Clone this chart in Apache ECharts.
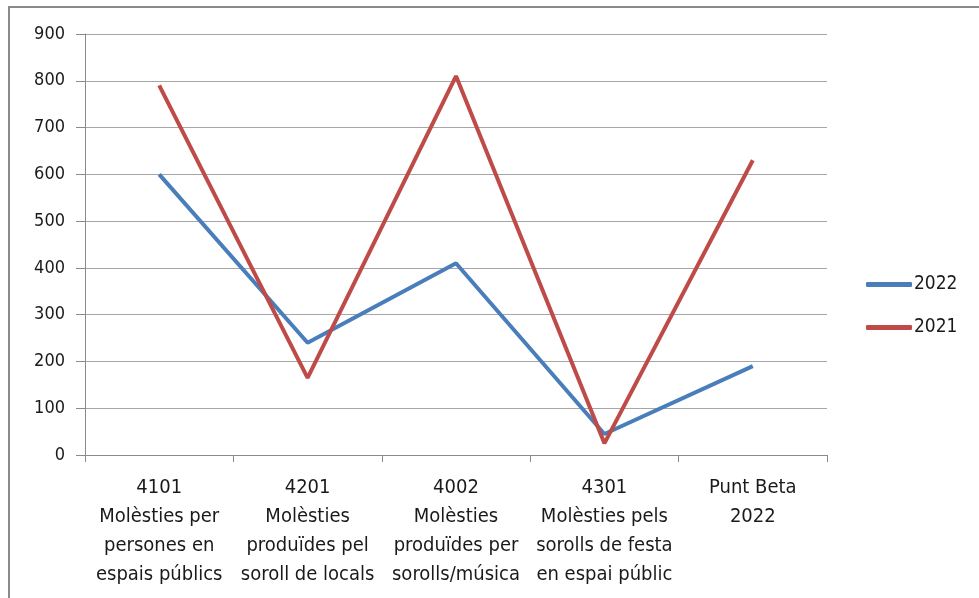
<!DOCTYPE html>
<html>
<head>
<meta charset="utf-8">
<script src="https://cdn.jsdelivr.net/npm/echarts@6/dist/echarts.min.js"></script>
<style>
  html, body { margin: 0; padding: 0; background: #fff; }
  #chart { width: 979px; height: 598px; }
  .frame { position: absolute; left: 8px; top: 6px; width: 990px; height: 620px; border: 2px solid #8a8a8a; box-sizing: border-box; pointer-events: none; }
</style>
</head>
<body>
<div class="frame"></div>
<div id="chart"></div>
<script>
  // categories and values
  const categories = [
    '4101\nMolèsties per\npersones en\nespais públics',
    '4201\nMolèsties\nproduïdes pel\nsoroll de locals',
    '4002\nMolèsties\nproduïdes per\nsorolls/música',
    '4301\nMolèsties pels\nsorolls de festa\nen espai públic',
    'Punt Beta\n2022'
  ]
  const seriesNames = ['2022', '2021']
  const values2022 = [600, 240, 410, 45, 190]
  const values2021 = [790, 165, 810, 25, 630]
  const yTicks = { min: 0, max: 900, interval: 100 }

  const font = '"DejaVu Sans Condensed", sans-serif'
  const chart = echarts.init(document.getElementById('chart'))
  const options = {
    animation: false,
    color: ['#4a7ebb', '#be4b48'],
    textStyle: { fontFamily: font },
    grid: { left: 85, right: 152, top: 34, bottom: 143 },
    legend: {
      orient: 'vertical',
      left: 866,
      top: 275,
      padding: 0,
      itemGap: 24,
      itemWidth: 46,
      itemHeight: 5,
      icon: 'roundRect',
      textStyle: { fontSize: 19, color: '#1a1a1a', padding: [0, 0, 0, -3], fontFamily: font },
      data: seriesNames
    },
    xAxis: {
      type: 'category',
      boundaryGap: true,
      data: categories,
      axisLine: { lineStyle: { color: '#8a8a8a', width: 1 } },
      axisTick: { show: true, length: 7, lineStyle: { color: '#8a8a8a' } },
      axisLabel: { interval: 0, fontSize: 20, lineHeight: 29, color: '#1a1a1a', margin: 18, fontFamily: font }
    },
    yAxis: {
      type: 'value',
      min: yTicks.min,
      max: yTicks.max,
      interval: yTicks.interval,
      axisLine: { show: true, lineStyle: { color: '#8a8a8a', width: 1 } },
      axisTick: { show: true, length: 9, lineStyle: { color: '#8a8a8a' } },
      splitLine: { lineStyle: { color: '#a6a6a6', width: 1 } },
      axisLabel: { fontSize: 18, color: '#1a1a1a', margin: 20, fontFamily: font }
    },
    series: [
      {
        name: seriesNames[0],
        type: 'line',
        data: values2022,
        showSymbol: false,
        symbol: 'none',
        lineStyle: { width: 4, color: '#4a7ebb' }
      },
      {
        name: seriesNames[1],
        type: 'line',
        data: values2021,
        showSymbol: false,
        symbol: 'none',
        lineStyle: { width: 4, color: '#be4b48' }
      }
    ]
  }
  chart.setOption(options, true)
</script>
</body>
</html>
